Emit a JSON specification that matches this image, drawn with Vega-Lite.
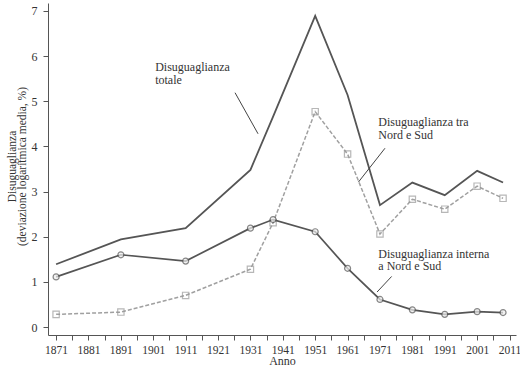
{
  "$schema": "https://vega.github.io/schema/vega-lite/v6.json",
  "autosize": "none",
  "width": 468,
  "height": 332,
  "padding": {"left": 48, "top": 3, "right": 4, "bottom": 39},
  "background": "white",
  "config": {
    "view": {"stroke": null},
    "font": "Liberation Serif",
    "text": {"font": "Liberation Serif", "fontSize": 12, "color": "#333"}
  },
  "resolve": {"axis": {"x": "independent", "y": "independent"}, "scale": {"x": "shared", "y": "shared"}},
  "layer": [
    {
      "data": {
        "values": [
          {"year": 1871, "series": "totale", "value": 1.39},
          {"year": 1891, "series": "totale", "value": 1.94},
          {"year": 1911, "series": "totale", "value": 2.19},
          {"year": 1931, "series": "totale", "value": 3.48},
          {"year": 1938, "series": "totale", "value": 4.66},
          {"year": 1951, "series": "totale", "value": 6.89},
          {"year": 1961, "series": "totale", "value": 5.14},
          {"year": 1971, "series": "totale", "value": 2.70},
          {"year": 1981, "series": "totale", "value": 3.20},
          {"year": 1991, "series": "totale", "value": 2.92},
          {"year": 2001, "series": "totale", "value": 3.46},
          {"year": 2009, "series": "totale", "value": 3.20},
          {"year": 1871, "series": "tra", "value": 0.28},
          {"year": 1891, "series": "tra", "value": 0.33},
          {"year": 1911, "series": "tra", "value": 0.70},
          {"year": 1931, "series": "tra", "value": 1.28},
          {"year": 1938, "series": "tra", "value": 2.31},
          {"year": 1951, "series": "tra", "value": 4.77},
          {"year": 1961, "series": "tra", "value": 3.83},
          {"year": 1971, "series": "tra", "value": 2.06},
          {"year": 1981, "series": "tra", "value": 2.83},
          {"year": 1991, "series": "tra", "value": 2.61},
          {"year": 2001, "series": "tra", "value": 3.12},
          {"year": 2009, "series": "tra", "value": 2.85},
          {"year": 1871, "series": "interna", "value": 1.11},
          {"year": 1891, "series": "interna", "value": 1.60},
          {"year": 1911, "series": "interna", "value": 1.46},
          {"year": 1931, "series": "interna", "value": 2.19},
          {"year": 1938, "series": "interna", "value": 2.38},
          {"year": 1951, "series": "interna", "value": 2.11},
          {"year": 1961, "series": "interna", "value": 1.30},
          {"year": 1971, "series": "interna", "value": 0.61},
          {"year": 1981, "series": "interna", "value": 0.38},
          {"year": 1991, "series": "interna", "value": 0.28},
          {"year": 2001, "series": "interna", "value": 0.34},
          {"year": 2009, "series": "interna", "value": 0.32}
        ]
      },
      "encoding": {
        "x": {
          "field": "year", "type": "quantitative",
          "scale": {"domain": [1868.5, 2013], "nice": false, "zero": false},
          "axis": {
            "title": "Anno",
            "values": [1871, 1876, 1881, 1886, 1891, 1896, 1901, 1906, 1911, 1916, 1921, 1926, 1931, 1936, 1941, 1946, 1951, 1956, 1961, 1966, 1971, 1976, 1981, 1986, 1991, 1996, 2001, 2006, 2011],
            "format": "d",
            "labelExpr": "(datum.value - 1871) % 10 == 0 ? datum.label : ''",
            "grid": false,
            "domainColor": "#555",
            "tickColor": "#555",
            "tickSize": 5,
            "labelFont": "Liberation Serif",
            "labelFontSize": 11.5,
            "labelColor": "#333",
            "labelPadding": 4,
            "labelOverlap": false,
            "titleFont": "Liberation Serif",
            "titleFontSize": 12,
            "titleFontWeight": "normal",
            "titleColor": "#333",
            "titlePadding": 0
          }
        },
        "y": {
          "field": "value", "type": "quantitative",
          "scale": {"domain": [-0.177, 7.177], "nice": false, "zero": false},
          "axis": {
            "title": ["Disuguaglianza", "(deviazione logaritmica media, %)"],
            "values": [0, 1, 2, 3, 4, 5, 6, 7],
            "grid": false,
            "domainColor": "#555",
            "tickColor": "#555",
            "tickSize": 5,
            "labelFont": "Liberation Serif",
            "labelFontSize": 12,
            "labelColor": "#333",
            "labelPadding": 6,
            "titleFont": "Liberation Serif",
            "titleFontSize": 11.5,
            "titleFontWeight": "normal",
            "titleColor": "#333",
            "titleLineHeight": 10,
            "titleAngle": 270,
            "titleBaseline": "bottom",
            "titleX": -31,
            "titleY": 163
          }
        }
      },
      "layer": [
        {
          "transform": [{"filter": "datum.series == 'tra'"}],
          "mark": {"type": "line", "color": "#a0a0a0", "strokeWidth": 1.5, "strokeDash": [4, 2]}
        },
        {
          "transform": [{"filter": "datum.series == 'tra'"}],
          "mark": {"type": "point", "shape": "square", "filled": false, "color": "#999", "strokeWidth": 1.2, "size": 40}
        },
        {
          "transform": [{"filter": "datum.series == 'totale'"}],
          "mark": {"type": "line", "color": "#555", "strokeWidth": 1.8}
        },
        {
          "transform": [{"filter": "datum.series == 'interna'"}],
          "mark": {"type": "line", "color": "#555", "strokeWidth": 1.7}
        },
        {
          "transform": [{"filter": "datum.series == 'interna'"}],
          "mark": {"type": "point", "shape": "circle", "filled": true, "fill": "#eee", "stroke": "#555", "strokeWidth": 1.2, "size": 36}
        }
      ]
    },
    {
      "data": {"values": [{"label": "Disuguaglianza\ntotale"}]},
      "mark": {"type": "text", "align": "left", "baseline": "alphabetic", "lineBreak": "\n", "lineHeight": 13},
      "encoding": {
        "text": {"field": "label"},
        "x": {"datum": 1901.6, "type": "quantitative", "axis": null},
        "y": {"datum": 5.665, "type": "quantitative", "axis": null}
      }
    },
    {
      "data": {"values": [{"label": "Disuguaglianza tra\nNord e Sud"}]},
      "mark": {"type": "text", "align": "left", "baseline": "alphabetic", "lineBreak": "\n", "lineHeight": 13},
      "encoding": {
        "text": {"field": "label"},
        "x": {"datum": 1970.5, "type": "quantitative", "axis": null},
        "y": {"datum": 4.46, "type": "quantitative", "axis": null}
      }
    },
    {
      "data": {"values": [{"label": "Disuguaglianza interna\na Nord e Sud"}]},
      "mark": {"type": "text", "align": "left", "baseline": "alphabetic", "lineBreak": "\n", "lineHeight": 12.5},
      "encoding": {
        "text": {"field": "label"},
        "x": {"datum": 1970.5, "type": "quantitative", "axis": null},
        "y": {"datum": 1.53, "type": "quantitative", "axis": null}
      }
    },
    {
      "data": {"values": [{"note": "totale"}]},
      "mark": {"type": "rule", "color": "#444", "strokeWidth": 1},
      "encoding": {
        "x": {"datum": 1926.25, "type": "quantitative", "axis": null},
        "y": {"datum": 5.19, "type": "quantitative", "axis": null},
        "x2": {"datum": 1933.35},
        "y2": {"datum": 4.28}
      }
    },
    {
      "data": {"values": [{"note": "tra"}]},
      "mark": {"type": "rule", "color": "#444", "strokeWidth": 1},
      "encoding": {
        "x": {"datum": 1972.55, "type": "quantitative", "axis": null},
        "y": {"datum": 3.96, "type": "quantitative", "axis": null},
        "x2": {"datum": 1964.35},
        "y2": {"datum": 3.21}
      }
    },
    {
      "data": {"values": [{"note": "interna"}]},
      "mark": {"type": "rule", "color": "#444", "strokeWidth": 1},
      "encoding": {
        "x": {"datum": 1974.6, "type": "quantitative", "axis": null},
        "y": {"datum": 1.12, "type": "quantitative", "axis": null},
        "x2": {"datum": 1970.1},
        "y2": {"datum": 0.775}
      }
    }
  ]
}
